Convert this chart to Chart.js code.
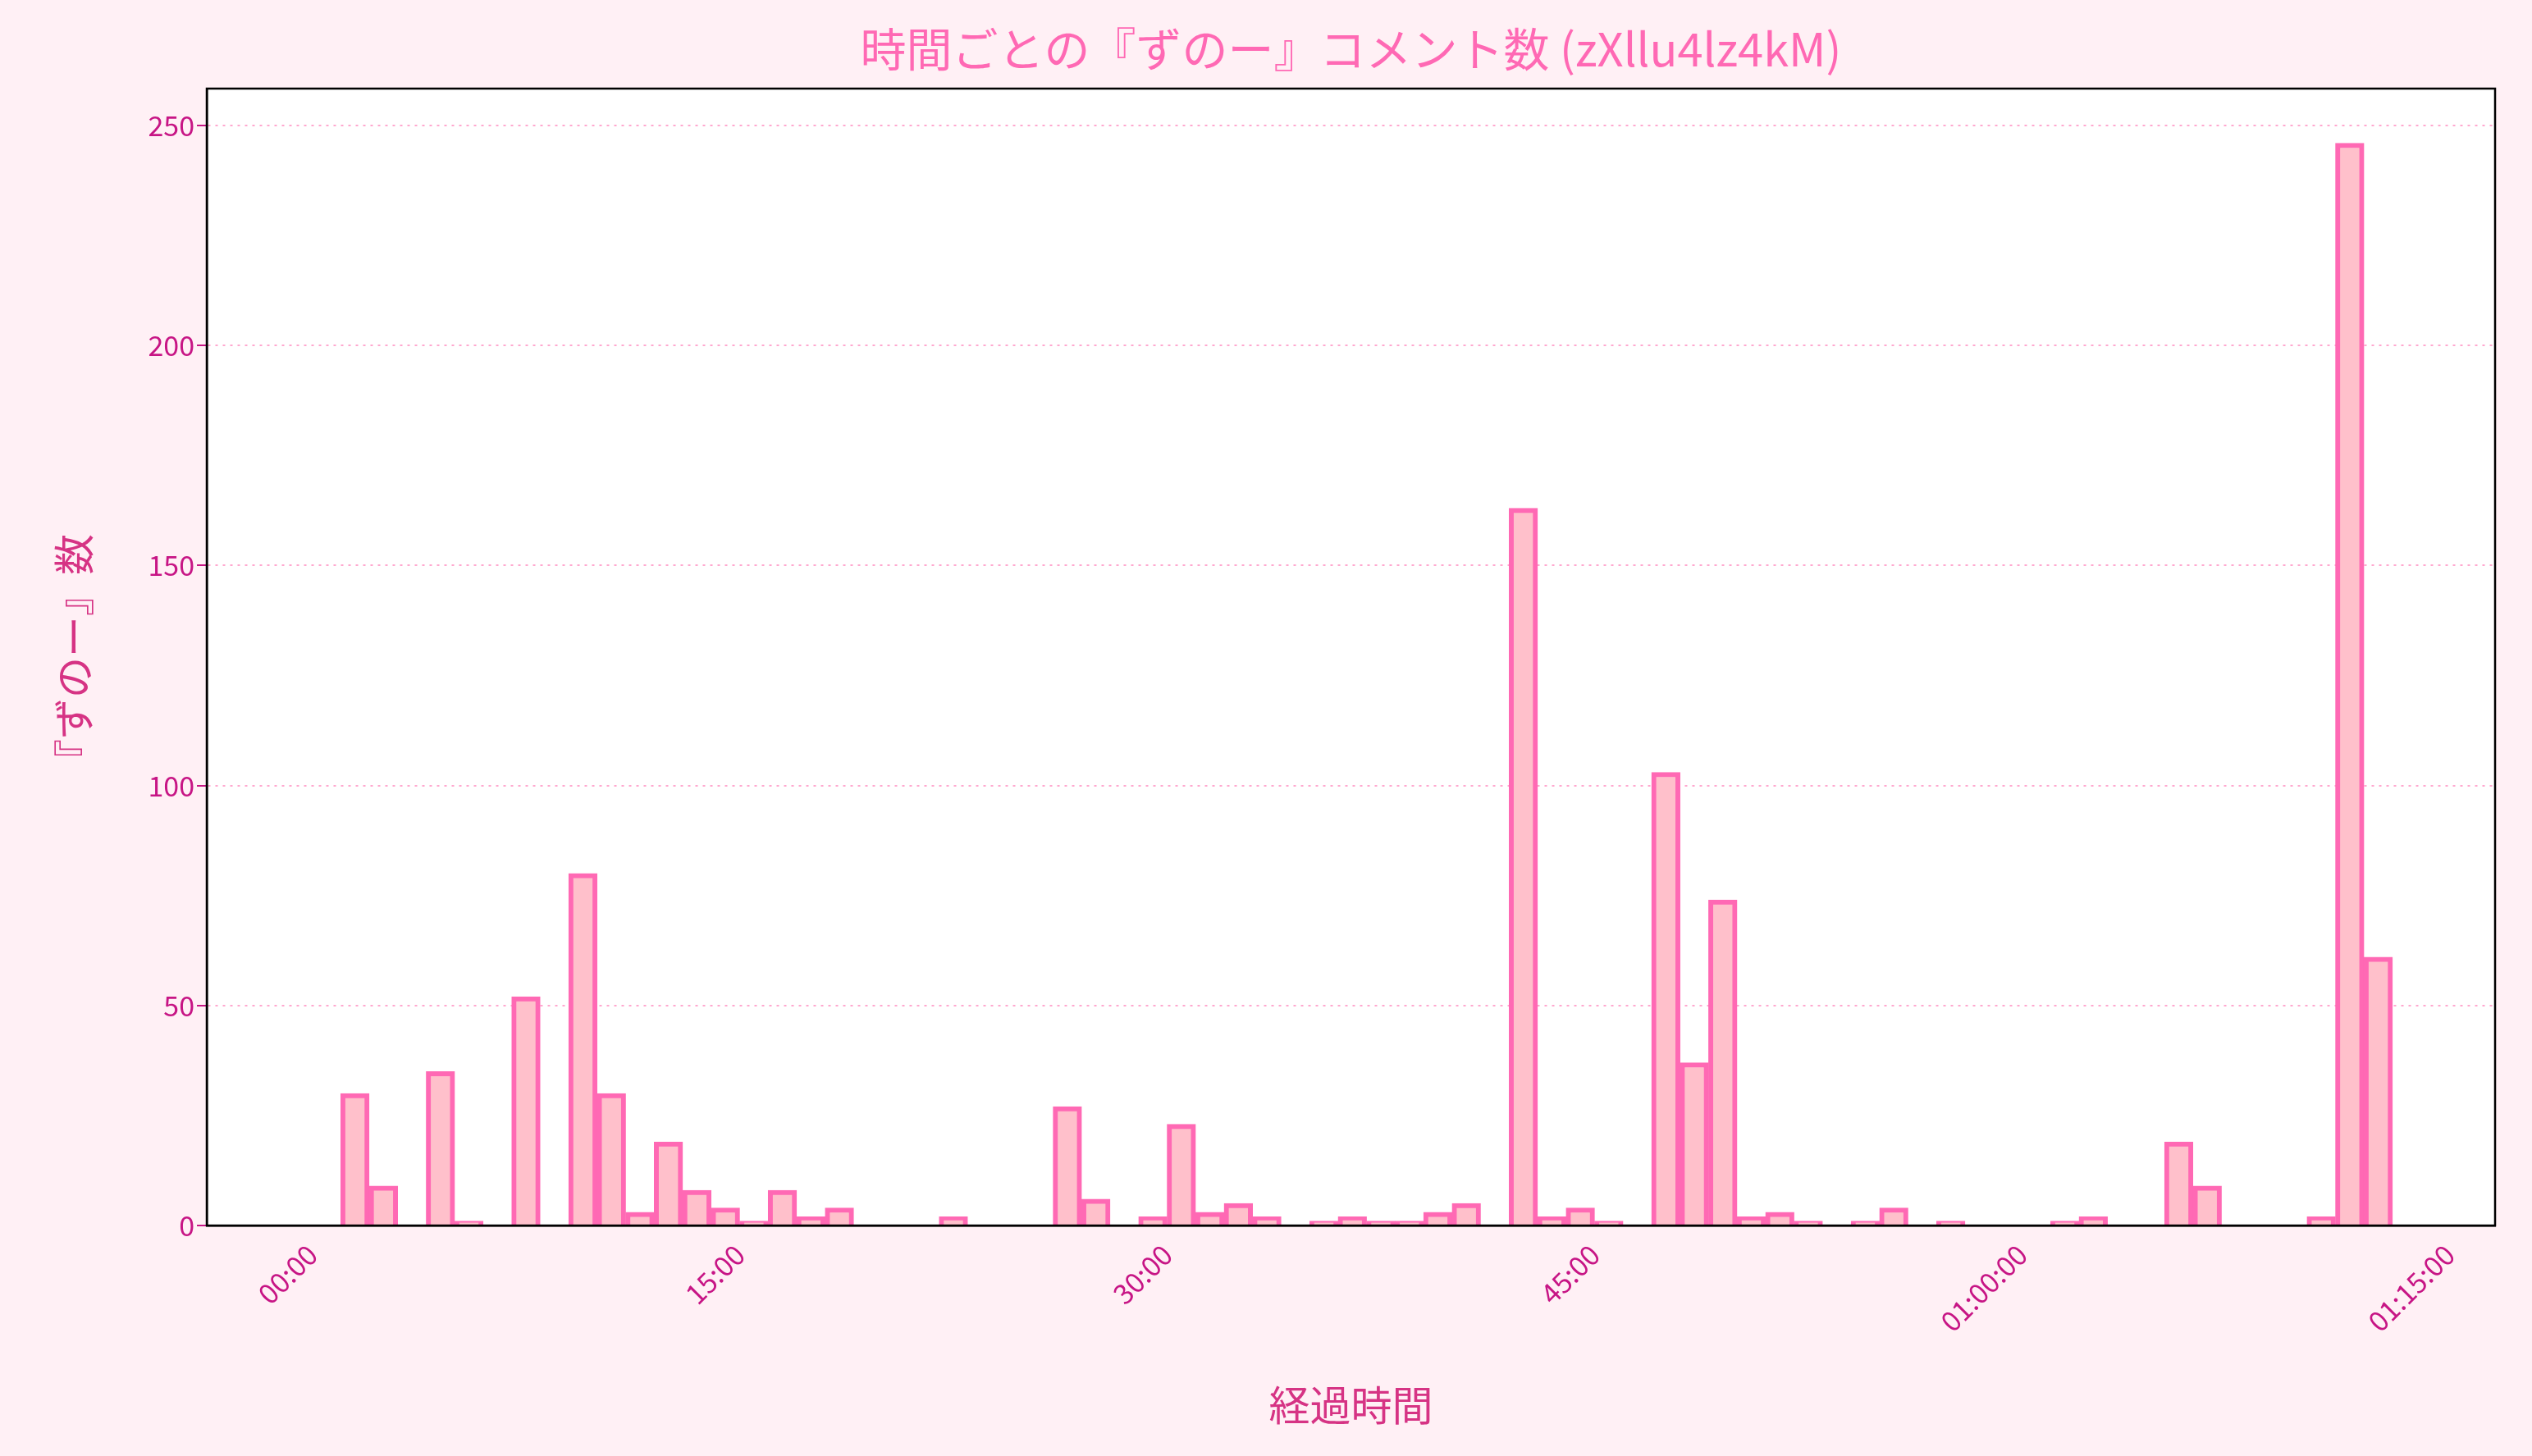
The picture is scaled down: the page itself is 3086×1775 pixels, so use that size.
<!DOCTYPE html>
<html>
<head>
<meta charset="utf-8">
<script src="https://cdn.jsdelivr.net/npm/chart.js@4/dist/chart.umd.min.js"></script>
<style>
  html, body { margin: 0; padding: 0; background: #fff0f5; }
  #wrap { width: 3086px; height: 1775px; }
</style>
</head>
<body>
<div id="wrap"><canvas id="chart"></canvas></div>
<script>
// 1分ごとの『ずのー』コメント数 (minute 0 .. 72)
const minutes = [];
for (let m = 0; m <= 72; m++) minutes.push(m);
const counts = [
    0, 30, 9, 0, 35, 1, 0, 52, 0, 80,
    30, 3, 19, 8, 4, 1, 8, 2, 4, 0,
    0, 0, 2, 0, 0, 0, 27, 6, 0, 2,
    23, 3, 5, 2, 0, 1, 2, 1, 1, 3,
    5, 0, 163, 2, 4, 1, 0, 103, 37, 74,
    2, 3, 1, 0, 1, 4, 0, 1, 0, 0,
    0, 1, 2, 0, 0, 19, 9, 0, 0, 0,
    2, 246, 61
];
const tickMinutes = [0, 15, 30, 45, 60, 75];
const tickLabels = ['00:00', '15:00', '30:00', '45:00', '01:00:00', '01:15:00'];

const FONT = '"Noto Sans CJK JP", "Noto Sans", sans-serif';

const plotDeco = {
    id: 'plotDeco',
    beforeDraw(chart) {
        const { ctx, chartArea: a } = chart;
        ctx.save();
        ctx.fillStyle = '#ffffff';
        ctx.fillRect(a.left, a.top, a.right - a.left, a.bottom - a.top);
        ctx.restore();
    },
    afterDraw(chart) {
        const { ctx, chartArea: a } = chart;
        ctx.save();
        ctx.strokeStyle = '#000000';
        ctx.lineWidth = 2.5;
        ctx.strokeRect(a.left, a.top, a.right - a.left, a.bottom - a.top);
        ctx.fillStyle = '#ff69b4';
        ctx.font = '56px ' + FONT;
        ctx.textAlign = 'center';
        ctx.textBaseline = 'middle';
        ctx.fillText('時間ごとの『ずのー』コメント数 (zXllu4lz4kM)', (a.left + a.right) / 2, 60);
        ctx.restore();
    }
};

new Chart(document.getElementById('chart'), {
    type: 'bar',
    data: {
        datasets: [{
            data: minutes.map((m, i) => ({ x: m + 0.5, y: counts[i] })),
            backgroundColor: '#ffc0cb',
            borderColor: '#ff69b4',
            borderWidth: 6,
            barPercentage: 1,
            categoryPercentage: 1
        }]
    },
    options: {
        responsive: true,
        maintainAspectRatio: false,
        devicePixelRatio: 1,
        animation: false,
        layout: { padding: { top: 108, right: 45, left: 0, bottom: 0 } },
        plugins: { legend: { display: false }, tooltip: { enabled: false } },
        scales: {
            x: {
                type: 'linear',
                offset: false,
                min: -3.7,
                max: 76.6,
                afterBuildTicks(scale) {
                    scale.ticks = tickMinutes.map(v => ({ value: v }));
                },
                afterFit(scale) { scale.height = 281; },
                grid: { display: false, drawTicks: true, tickLength: 12, tickColor: '#c71585' },
                border: { color: '#000000', width: 2.5 },
                ticks: {
                    color: '#c71585',
                    font: { family: FONT, size: 34 },
                    maxRotation: 45,
                    minRotation: 45,
                    callback: (v) => tickLabels[tickMinutes.indexOf(v)]
                },
                title: {
                    display: true,
                    text: '経過時間',
                    color: '#d63384',
                    font: { family: FONT, size: 50 },
                    padding: { top: 0, bottom: 32 }
                }
            },
            y: {
                min: 0,
                max: 258.4,
                afterBuildTicks(scale) {
                    scale.ticks = [0, 50, 100, 150, 200, 250].map(v => ({ value: v }));
                },
                afterFit(scale) { scale.width = 252; },
                grid: {
                    color: '#ffa8cf',
                    lineWidth: 2,
                    tickColor: '#c71585',
                    tickLength: 12,
                    drawOnChartArea: true
                },
                border: { color: '#000000', width: 2.5, dash: [3, 6] },
                ticks: {
                    color: '#c71585',
                    font: { family: FONT, size: 34 }
                },
                title: {
                    display: true,
                    text: '『ずのー』数',
                    color: '#d63384',
                    font: { family: FONT, size: 50 },
                    padding: { top: 60, bottom: 30 }
                }
            }
        }
    },
    plugins: [plotDeco]
});
</script>
</body>
</html>
